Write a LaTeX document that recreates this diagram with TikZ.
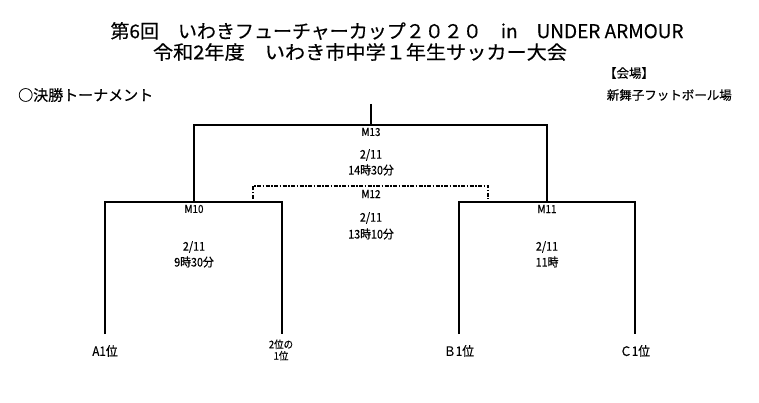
\documentclass[tikz,border=0pt]{standalone}
\usepackage{fontspec}
\newfontfamily\jp[FakeStretch=0.9, FakeBold=0.4]{Noto Sans CJK JP}
\newfontfamily\jpw[FakeBold=0.4]{Noto Sans CJK JP}
\tikzset{
  txt/.style={inner sep=0pt, font=\jp\fontsize{12}{13}\selectfont, align=center},
  mlabel/.style={txt, font=\jp\fontsize{11}{12}\selectfont},
  team/.style={txt, font=\jp\fontsize{13}{14}\selectfont},
  team2/.style={txt, font=\jp\fontsize{10.5}{11.5}\selectfont},
  title/.style={txt, font=\jpw\fontsize{19}{20}\selectfont},
  head/.style={txt, font=\jpw\fontsize{12.5}{13}\selectfont},
  bracket/.style={line width=2pt, line join=miter},
  dbracket/.style={line width=1.4pt, dash pattern=on 4pt off 1.5pt on 1.5pt off 1.5pt}
}
\begin{document}
\begin{tikzpicture}[x=1pt,y=-1pt]
\useasboundingbox (0,0) rectangle (759,403);
% titles
\node[title] (t1) at (397,31) {第6回　いわきフューチャーカップ２０２０　in　UNDER ARMOUR};
\node[title] (t2) at (360,52) {\scalebox{1.06}[1]{令和2年度　いわき市中学１年生サッカー大会}};
\node[head] (kaijo) at (629,73) {【会場】};
\node[head, anchor=east] (venue) at (732,95) {新舞子フットボール場};
\node[head, font=\jpw\fontsize{15}{16}\selectfont, anchor=west] (kesho) at (18,95) {○決勝トーナメント};
% bracket coordinates
\coordinate (top) at (371,104);
\coordinate (f) at (371,125);
\coordinate (fl) at (194,125);
\coordinate (fr) at (547,125);
\coordinate (sl) at (194,202);
\coordinate (sr) at (547,202);
\coordinate (l1) at (105,202);
\coordinate (l2) at (282,202);
\coordinate (r1) at (459,202);
\coordinate (r2) at (635,202);
\coordinate (la) at (105,334);
\coordinate (lb) at (282,334);
\coordinate (ra) at (459,334);
\coordinate (rb) at (635,334);
\coordinate (d1) at (253,199);
\coordinate (d2) at (253,186);
\coordinate (d3) at (488,186);
\coordinate (d4) at (488,199);
% connectors
\draw[bracket] (top) -- (f);
\draw[bracket] (sl) -- (fl) -- (fr) -- (sr);
\draw[bracket] (la) -- (l1) -- (l2) -- (lb);
\draw[bracket] (ra) -- (r1) -- (r2) -- (rb);
\draw[dbracket] (d1) -- (d2) -- (d3) -- (d4);
% match labels
\node[mlabel] (m13) at (371,132) {M13};
\node[txt] (m13d) at (371,155) {2/11};
\node[txt] (m13t) at (371,170) {14時30分};
\node[mlabel] (m12) at (371,194) {M12};
\node[txt] (m12d) at (371,218) {2/11};
\node[txt] (m12t) at (371,234) {13時10分};
\node[mlabel] (m10) at (194,209) {M10};
\node[txt] (m10d) at (194,247) {2/11};
\node[txt] (m10t) at (194,262) {9時30分};
\node[mlabel] (m11) at (547,209) {M11};
\node[txt] (m11d) at (547,247) {2/11};
\node[txt] (m11t) at (547,262) {11時};
% teams
\node[team] (a1) at (105,351) {A1位};
\node[team2] (a2) at (281,350) {2位の\\1位};
\node[team] (b1) at (459,351) {Ｂ1位};
\node[team] (c1) at (635,351) {Ｃ1位};
\end{tikzpicture}
\end{document}
